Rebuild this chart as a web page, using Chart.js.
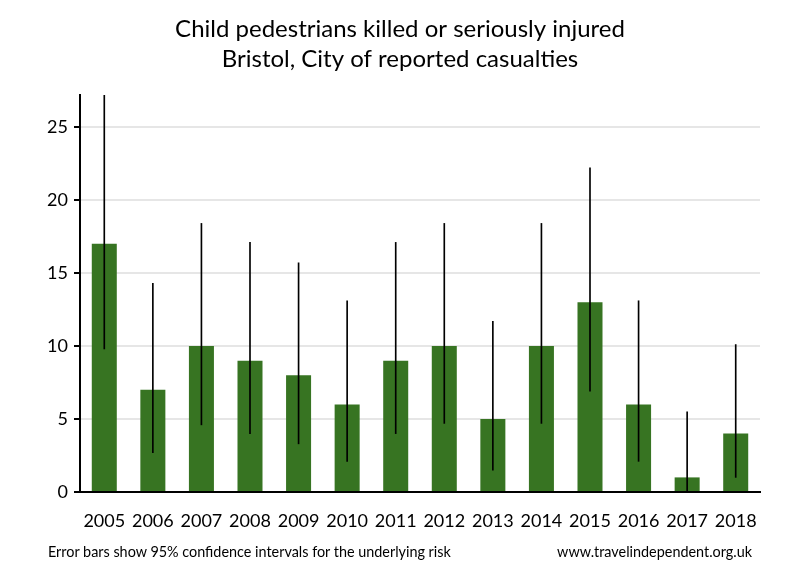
<!DOCTYPE html>
<html>
<head>
<meta charset="utf-8">
<script src="https://cdn.jsdelivr.net/npm/chart.js@4/dist/chart.umd.min.js"></script>
<style>
  html, body { margin: 0; padding: 0; background: #fff; }
  #wrap { position: relative; width: 800px; height: 580px; }
  canvas { position: absolute; left: 0; top: 0; }
  .foot { position: absolute; top: 543px; font-family: Lato, "DejaVu Sans", sans-serif; font-size: 14.4px; color: #000; white-space: nowrap; }
</style>
</head>
<body>
<div id="wrap">
  <canvas id="c" width="800" height="580"></canvas>
  <div class="foot" style="left:48px;">Error bars show 95% confidence intervals for the underlying risk</div>
  <div class="foot" style="right:48px;">www.travelindependent.org.uk</div>
</div>
<script>
const years = ["2005","2006","2007","2008","2009","2010","2011","2012","2013","2014","2015","2016","2017","2018"];
const casualties = [17, 7, 10, 9, 8, 6, 9, 10, 5, 10, 13, 6, 1, 4];
const ciLow  = [9.8, 2.7, 4.6, 4.0, 3.3, 2.1, 4.0, 4.7, 1.5, 4.7, 6.9, 2.1, 0.0, 1.0];
const ciHigh = [27.2, 14.3, 18.4, 17.1, 15.7, 13.1, 17.1, 18.4, 11.7, 18.4, 22.2, 13.1, 5.5, 10.1];
const titleLines = ["Child pedestrians killed or seriously injured", "Bristol, City of reported casualties"];
const yTicks = [0, 5, 10, 15, 20, 25];

const FONT = "Lato, 'DejaVu Sans', sans-serif";

new Chart(document.getElementById('c'), {
  type: 'bar',
  data: {
    labels: years,
    datasets: [
      {
        label: 'CI',
        data: years.map((y, i) => [ciLow[i], ciHigh[i]]),
        backgroundColor: '#000',
        barThickness: 1,
        grouped: false,
        yAxisID: 'y',
        order: 0
      },
      {
        label: 'Casualties',
        data: casualties,
        backgroundColor: '#377422',
        categoryPercentage: 1,
        barPercentage: 0.515,
        grouped: false,
        yAxisID: 'y',
        order: 1
      }
    ]
  },
  options: {
    responsive: false,
    animation: false,
    layout: { padding: { left: 0, right: 0, top: 0, bottom: 48 } },
    plugins: {
      legend: { display: false },
      tooltip: { enabled: false },
      title: {
        display: true,
        text: titleLines,
        color: '#000',
        font: { family: FONT, size: 24, weight: 'normal', lineHeight: 1.27 },
        padding: { top: 14, bottom: 20 }
      }
    },
    scales: {
      x: {
        grid: { display: false, drawTicks: false },
        border: { display: true, color: '#000', width: 2 },
        ticks: { color: '#000', font: { family: FONT, size: 18 }, padding: 18, maxRotation: 0 },
        afterFit: s => { s.height = 40; }
      },
      y: {
        min: 0,
        max: 27.2,
        afterBuildTicks: s => { s.ticks = yTicks.map(v => ({ value: v })); },
        grid: { color: '#e6e6e6', lineWidth: 2, tickColor: '#000', tickLength: 6, tickWidth: 2 },
        border: { display: true, color: '#000', width: 2 },
        ticks: { color: '#000', font: { family: FONT, size: 18 }, padding: 6 },
        afterFit: s => { s.width = 80; }
      },
      yr: {
        position: 'right',
        min: 0,
        max: 27.2,
        grid: { display: false, drawTicks: false },
        border: { display: false },
        ticks: { display: false },
        afterFit: s => { s.width = 40; }
      }
    }
  }
});
</script>
</body>
</html>
